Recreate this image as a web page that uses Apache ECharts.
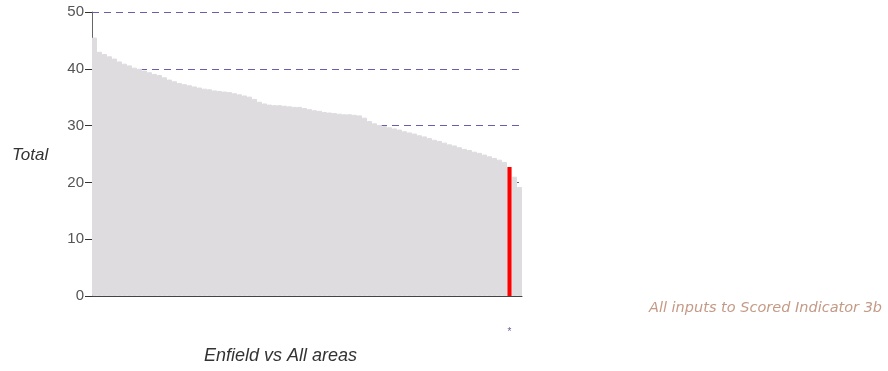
<!DOCTYPE html>
<html>
<head>
<meta charset="utf-8">
<script src="https://cdn.jsdelivr.net/npm/echarts@6/dist/echarts.min.js"></script>
<style>html,body{margin:0;padding:0;background:#fff}#c{width:888px;height:371px}</style>
</head>
<body>
<div id="c"></div>
<script>
// All areas (sorted), Enfield highlighted
var areaValues = [45.5,43.0,42.6,42.2,41.8,41.3,40.9,40.6,40.2,40.0,
  39.7,39.4,39.1,38.9,38.5,38.1,37.8,37.5,37.3,37.1,
  36.9,36.7,36.5,36.4,36.2,36.1,36.0,35.9,35.7,35.5,
  35.3,35.1,34.7,34.2,33.9,33.7,33.6,33.6,33.5,33.4,
  33.3,33.3,33.1,32.9,32.7,32.6,32.4,32.3,32.2,32.1,
  32.0,32.0,31.9,31.8,31.4,30.8,30.4,30.1,29.9,29.7,
  29.5,29.3,29.0,28.8,28.6,28.3,28.1,27.8,27.5,27.3,
  27.0,26.7,26.5,26.2,25.9,25.7,25.4,25.2,24.9,24.6,
  24.3,24.0,23.6,22.7,21.0,19.2];
var enfieldIndex = 83;
var enfieldValue = 22.7;
var yTicks = [0,10,20,30,40,50];

var categories = areaValues.map(function(_, i){ return i === enfieldIndex ? '*' : ''; });
var enfieldSeries = areaValues.map(function(_, i){ return i === enfieldIndex ? enfieldValue : '-'; });

var chart = echarts.init(document.getElementById('c'));
chart.setOption({
  animation: false,
  grid: {left: 92, right: 366, top: 12, bottom: 75},
  xAxis: [{
    type: 'category', data: categories,
    axisLine: {lineStyle: {color: '#444', width: 1}},
    axisTick: {show: false},
    axisLabel: {show: true, interval: 0, color: '#6a5a9a', fontSize: 10, margin: 31, fontFamily: 'Liberation Sans'},
    splitLine: {show: false}
  }, {
    type: 'category', data: categories, show: false, position: 'bottom'
  }],
  yAxis: {
    type: 'value', min: yTicks[0], max: yTicks[yTicks.length-1], interval: 10,
    axisLine: {show: true, lineStyle: {color: '#666', width: 1}},
    axisTick: {show: true, length: 7, lineStyle: {color: '#333'}},
    axisLabel: {color: '#555', fontSize: 15, margin: 8, fontFamily: 'Liberation Sans'},
    splitLine: {show: true, lineStyle: {color: '#6c5cb0', type: [7,5], width: 1}}
  },
  series: [
    {type: 'bar', xAxisIndex: 0, data: areaValues, barCategoryGap: 0, barWidth: '100%',
     itemStyle: {color: '#dedcdf', borderColor: '#dedcdf', borderWidth: 1}, silent: true},
    {type: 'bar', xAxisIndex: 1, data: enfieldSeries, barWidth: 4,
     itemStyle: {color: '#ff0000'}, silent: true}
  ],
  graphic: [
    {type: 'text', left: 12, top: 147, style: {text: 'Total', font: 'italic 17px "Liberation Sans"', fill: '#333'}},
    {type: 'text', left: 204, top: 347, style: {text: 'Enfield vs All areas', font: 'italic 18px "Liberation Sans"', fill: '#333'}},
    {type: 'text', left: 649, top: 301, style: {text: 'All inputs to Scored Indicator 3b', font: 'italic 14.5px "DejaVu Sans"', fill: '#c49a86'}}
  ]
});
</script>
</body>
</html>
